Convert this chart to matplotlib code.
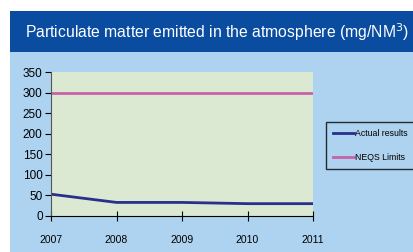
import matplotlib
matplotlib.use("Agg")
import matplotlib.pyplot as plt
from matplotlib.patches import Rectangle

plt.rcParams['font.family'] = ['Liberation Sans', 'DejaVu Sans']

years = [2007, 2008, 2009, 2010, 2011]
actual = [53, 33, 33, 30, 30]
neqs = [300, 300, 300, 300, 300]
yticks = [0, 50, 100, 150, 200, 250, 300, 350]

W, H = 414, 252
fig = plt.figure(figsize=(W/100, H/100), dpi=100)
fig.patch.set_facecolor('white')
fig.patches.append(Rectangle((10/W, 0), 1 - 10/W, 200/H, transform=fig.transFigure,
                             facecolor='#aed3f0', edgecolor='none', zorder=-2))
fig.patches.append(Rectangle((10/W, (H-52)/H), 1 - 10/W, 41/H, transform=fig.transFigure,
                             facecolor='#0a4da0', edgecolor='none', zorder=-2))
fig.text(25/W, (H-32)/H, 'Particulate matter emitted in the atmosphere (mg/NM$^3$)',
         color='white', fontsize=11.3, va='center', ha='left')

ax = fig.add_axes([51/W, (H-216)/H, (313-51)/W, (216-72)/H])
ax.set_facecolor('#dbe9d3')
ax.plot(years, actual, color='#2a2f8c', lw=2, label='Actual results')
ax.plot(years, neqs, color='#c862a8', lw=2, label='NEQS Limits')
ax.set_xlim(2007, 2011)
ax.set_ylim(0, 350)
ax.set_yticks(yticks)
ax.set_xticks(years)
for s in ['top', 'right']:
    ax.spines[s].set_visible(False)
ax.spines['left'].set_color('#555555')
ax.spines['bottom'].set_color('black')
ax.tick_params(axis='y', direction='out', length=4, labelsize=8.5, pad=2, colors='black')
ax.tick_params(axis='x', direction='inout', length=7, labelsize=7.5, pad=10)

leg = fig.legend(loc='upper left', bbox_to_anchor=(326/W, (H-122)/H), fontsize=6.3,
                 frameon=True, fancybox=False, edgecolor='black', facecolor='#aed3f0',
                 handlelength=2.4, borderpad=0.8, labelspacing=1.75, handletextpad=0.1,
                 borderaxespad=0)
leg.get_frame().set_linewidth(1)

fig.savefig('out.png', dpi=100, facecolor=fig.get_facecolor())
